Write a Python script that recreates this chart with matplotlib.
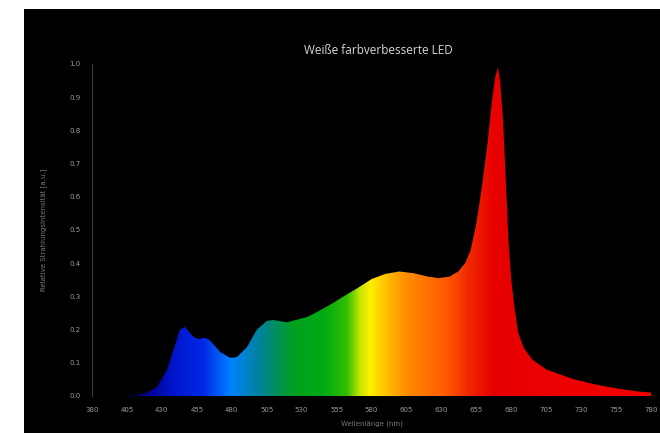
import numpy as np
import matplotlib
matplotlib.use('Agg')
from matplotlib import pyplot as plt
from matplotlib.colors import LinearSegmentedColormap
from matplotlib.patches import Rectangle

# spectrum
wavelength = [380, 405, 414, 420, 426.5, 433.7, 439, 443, 446.5, 450, 453.7, 457, 461, 464,
              471.6, 478.7, 483.7, 491, 498, 505, 509.5, 519.5, 534, 541, 552.5, 560,
              570, 580, 590, 600, 610, 620, 628, 636, 642, 647, 651, 655, 659, 663, 666, 668.5,
              670.5, 672, 674, 676, 678, 680, 682.5, 685, 689, 695, 705, 715, 725, 740, 755, 770, 780]
intensity = [0.0, 0.0, 0.004, 0.012, 0.027, 0.078, 0.148, 0.2, 0.208, 0.19, 0.175, 0.172, 0.175, 0.169,
             0.133, 0.115, 0.117, 0.148, 0.2, 0.226, 0.229, 0.222, 0.238, 0.253, 0.28, 0.30,
             0.325, 0.352, 0.368, 0.375, 0.37, 0.36, 0.355, 0.36, 0.375, 0.40, 0.44, 0.52, 0.63, 0.76, 0.88, 0.96,
             0.99, 0.95, 0.84, 0.66, 0.47, 0.35, 0.26, 0.19, 0.145, 0.11, 0.08, 0.065, 0.05, 0.035, 0.023, 0.014, 0.01]

x_ticks = [380, 405, 430, 455, 480, 505, 530, 555, 580, 605, 630, 655, 680, 705, 730, 755, 780]
y_ticks = [0.0, 0.1, 0.2, 0.3, 0.4, 0.5, 0.6, 0.7, 0.8, 0.9, 1.0]

# colour stops of the spectrum fill
color_nm = [380, 420, 436, 459, 479, 500, 524, 545, 562, 572, 579, 591, 605, 634, 650, 668, 780]
color_rgb = ['#000010', '#000090', '#0014c8', '#0028e6', '#0082ff', '#00829a', '#00a01e', '#00aa14',
             '#30be00', '#c8e600', '#fff000', '#ffbe00', '#ff8c00', '#ff5a00', '#f02800', '#e60000',
             '#f50000']

fig = plt.figure(figsize=(6.6, 4.33), dpi=100, facecolor='white')
fig.add_artist(Rectangle((24 / 660, 0), 636 / 660, 424 / 433, transform=fig.transFigure,
                         facecolor='black', edgecolor='none', zorder=0))

ax = fig.add_axes([92 / 660, 1 - 396 / 433, 559 / 660, 332 / 433])
ax.set_facecolor('black')
ax.set_xlim(380, 780)
ax.set_ylim(0, 1.0)

cmap = LinearSegmentedColormap.from_list(
    'spec', [((n - 380) / 400, c) for n, c in zip(color_nm, color_rgb)])
grad = np.linspace(0, 1, 800).reshape(1, -1)
img = ax.imshow(grad, cmap=cmap, aspect='auto', extent=[380, 780, 0, 1.0],
                origin='lower', interpolation='bilinear', zorder=1)
poly = ax.fill_between(wavelength, intensity, 0, facecolor='none', edgecolor='none')
img.set_clip_path(poly.get_paths()[0], transform=ax.transData)

for s in ['top', 'right', 'bottom']:
    ax.spines[s].set_visible(False)
ax.spines['left'].set_color('#3a3a3a')
ax.spines['left'].set_linewidth(0.8)

ax.set_xticks(x_ticks)
ax.set_xticklabels([str(t) for t in x_ticks])
ax.set_yticks(y_ticks)
ax.set_yticklabels(['%.1f' % t for t in y_ticks])
ax.tick_params(length=0, labelsize=5, colors='#9a9a9a', pad=8)

ax.set_xlabel('Wellenlänge (nm)', fontsize=5, color='#7a7a7a', labelpad=5)
ax.set_ylabel('Relative Strahlungsintensität [a.u.]', fontsize=5, color='#7a7a7a', labelpad=16)
fig.text(378 / 660, 1 - 50 / 433, 'Weiße farbverbesserte LED', ha='center', va='center',
         fontsize=8.5, color='#d8d8d8', family='Open Sans')

plt.savefig('out.png', dpi=100, facecolor='white')
